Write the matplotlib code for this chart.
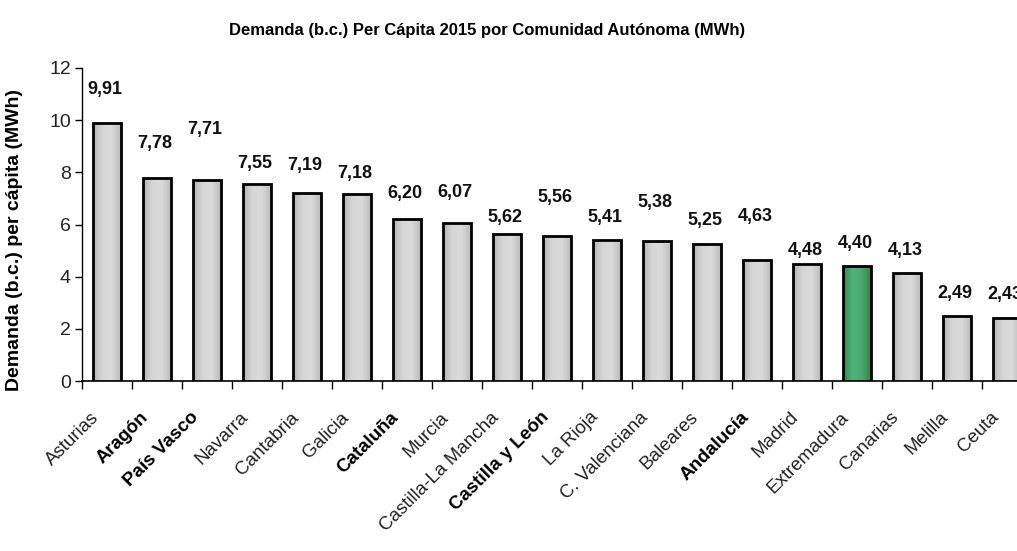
import matplotlib
matplotlib.use("Agg")
import matplotlib.pyplot as plt
import matplotlib.transforms as mtransforms
from matplotlib.colors import LinearSegmentedColormap
import numpy as np

regions = ["Asturias", "Aragón", "País Vasco", "Navarra", "Cantabria", "Galicia",
           "Cataluña", "Murcia", "Castilla-La Mancha", "Castilla y León", "La Rioja",
           "C. Valenciana", "Baleares", "Andalucía", "Madrid", "Extremadura",
           "Canarias", "Melilla", "Ceuta"]
values = [9.91, 7.78, 7.71, 7.55, 7.19, 7.18, 6.20, 6.07, 5.62, 5.56, 5.41,
          5.38, 5.25, 4.63, 4.48, 4.40, 4.13, 2.49, 2.43]
bold_regions = ["Aragón", "País Vasco", "Cataluña", "Castilla y León", "Andalucía"]
highlight = "Extremadura"

title = "Demanda (b.c.) Per Cápita 2015 por Comunidad Autónoma (MWh)"
ylabel = "Demanda (b.c.) per cápita (MWh)"
yticks = [0, 2, 4, 6, 8, 10, 12]

# style: vertical offsets of the value labels above the bars (data units)
label_offsets = [1.26, 1.33, 1.93, 0.79, 1.08, 0.78, 0.99, 1.16, 0.66, 1.48,
                 0.87, 1.47, 0.91, 1.68, 0.53, 0.88, 0.88, 0.88, 0.90]

narrow = ["Liberation Sans", "DejaVu Sans"]
arial = ["Liberation Sans", "DejaVu Sans"]

fig = plt.figure(figsize=(10.17, 5.51), dpi=100)
ax = fig.add_axes([82 / 1017, 170 / 551, 950 / 1017, 313 / 551])

x = np.arange(len(regions))
bars = ax.bar(x, values, width=0.56, facecolor="none", edgecolor="black",
              linewidth=2.0, zorder=4)

gray_cmap = LinearSegmentedColormap.from_list("g", ["#b4b4b4", "#d6d6d6", "#dadada", "#bcbcbc"])
green_cmap = LinearSegmentedColormap.from_list("gr", ["#2f8a52", "#4fb277", "#49aa70", "#2e8650"])
grad = np.linspace(0, 1, 64).reshape(1, -1)
for r, b in zip(regions, bars):
    cmap = green_cmap if r == highlight else gray_cmap
    x0, w, h = b.get_x(), b.get_width(), b.get_height()
    im = ax.imshow(grad, cmap=cmap, extent=[x0, x0 + w, 0, h], aspect="auto",
                   interpolation="bilinear", zorder=3)
    im.set_clip_path(b)

for xi, v, off in zip(x, values, label_offsets):
    ax.text(xi - 0.04, v + off, f"{v:.2f}".replace(".", ","), ha="center", va="center",
            fontsize=13, fontweight="bold", family=narrow, color="#111111")

ax.set_xlim(-0.5, len(regions) - 0.5)
ax.set_ylim(0, 12)
ax.set_yticks(yticks)
ax.set_yticklabels([str(t) for t in yticks], family=narrow, fontsize=14, color="#222222")
ax.tick_params(axis="y", direction="out", length=5, width=1, pad=3)

ax.set_xticks(x)
ax.tick_params(axis="x", which="major", length=0, pad=20)
ax.set_xticks(np.arange(len(regions) + 1) - 0.5, minor=True)
ax.tick_params(axis="x", which="minor", direction="out", length=6, width=1)
ax.set_xticklabels(regions, rotation=45, ha="right", va="top", rotation_mode="anchor",
                   fontsize=13.5, family=arial, color="#222222")
shift = mtransforms.ScaledTranslation(-17 / 100, 0, fig.dpi_scale_trans)
for lbl in ax.get_xticklabels():
    lbl.set_transform(lbl.get_transform() + shift)
    if lbl.get_text() in bold_regions:
        lbl.set_fontweight("bold")
        lbl.set_color("black")

for s in ["top", "right"]:
    ax.spines[s].set_visible(False)
ax.spines["left"].set_linewidth(1)
ax.spines["bottom"].set_linewidth(1.2)

fig.text(15 / 1017, 1 - 240 / 551, ylabel, rotation=90, ha="center", va="center",
         fontsize=14, fontweight="bold", family=arial)
fig.text(487 / 1017, 1 - 31 / 551, title, ha="center", va="center",
         fontsize=12, fontweight="bold", family=narrow)

fig.savefig("out.png", dpi=100)
